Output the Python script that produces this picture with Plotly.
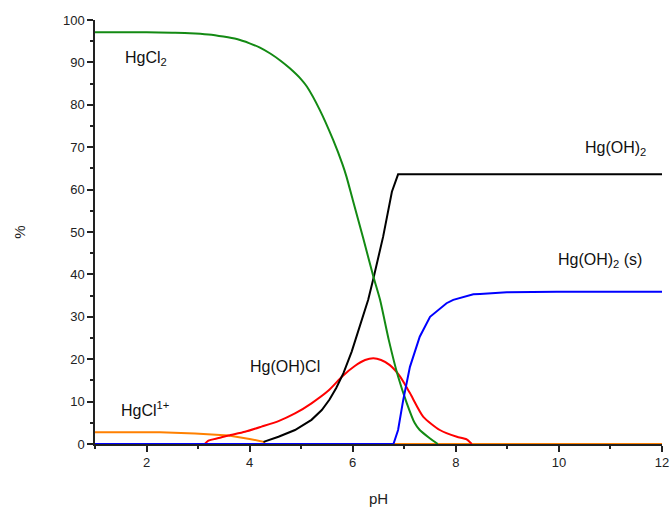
import plotly.graph_objects as go

# HgCl2 (green)
ph_hgcl2 = [1, 2, 2.5, 2.84, 3.2, 3.49, 3.75, 4.0, 4.2, 4.4, 4.6, 4.78, 5.0, 5.11, 5.36, 5.62,
            5.8, 5.88, 6.0, 6.2, 6.4, 6.53, 6.7, 6.88, 7.05, 7.2, 7.3, 7.5, 7.65]
pct_hgcl2 = [97.1, 97.1, 97.0, 96.9, 96.6, 96.1, 95.5, 94.5, 93.5, 92.1, 90.4, 88.6, 86.0, 84.3,
             78.8, 71.7, 66.0, 63.0, 57.6, 48.7, 39.5, 34.0, 24.5, 15.9, 9.6, 5.0, 3.3, 1.3, 0]

# HgCl1+ (orange)
ph_hgcl = [1, 2.26, 2.94, 3.59, 4.0, 4.27, 4.3, 12]
pct_hgcl = [2.8, 2.8, 2.5, 2.0, 1.2, 0.5, 0, 0]

# Hg(OH)Cl (red)
ph_hgohcl = [3.13, 3.2, 3.4, 3.59, 3.91, 4.23, 4.56, 4.88, 5.2, 5.53, 5.8, 6.04, 6.24, 6.4,
             6.55, 6.72, 6.92, 7.11, 7.37, 7.69, 8.02, 8.21, 8.31]
pct_hgohcl = [0, 0.8, 1.4, 2.0, 2.9, 4.1, 5.4, 7.2, 9.6, 12.6, 16.0, 18.4, 19.8, 20.2,
              19.8, 18.6, 15.9, 12.0, 6.4, 3.3, 1.7, 1.1, 0]

# Hg(OH)2 (black)
ph_hgoh2 = [4.27, 4.56, 4.88, 5.2, 5.4, 5.55, 5.68, 5.82, 5.98, 6.2, 6.3, 6.4, 6.59, 6.76,
            6.88, 12]
pct_hgoh2 = [0.5, 1.7, 3.3, 5.7, 8.0, 10.5, 13.2, 16.7, 21.8, 30.0, 34.0, 39.0, 48.9, 59.5,
             63.6, 63.6]

# Hg(OH)2 (s) (blue)
ph_hgoh2s = [1, 6.79, 6.88, 6.98, 7.11, 7.30, 7.50, 7.69, 7.82, 7.95, 8.14, 8.34, 8.47, 8.99,
             9.96, 12]
pct_hgoh2s = [0, 0, 3.3, 10.4, 18.2, 25.3, 30.0, 32.0, 33.2, 34.0, 34.7, 35.3, 35.4, 35.8,
              35.9, 35.9]

# species labels and where they sit (pH, %)
label_text = ["HgCl<sub>2</sub>", "Hg(OH)Cl", "HgCl<sup>1+</sup>",
              "Hg(OH)<sub>2</sub>", "Hg(OH)<sub>2</sub> (s)"]
label_ph = [1.98, 4.69, 1.97, 11.1, 10.8]
label_pct = [91.0, 18.3, 8.3, 69.6, 43.2]

fig = go.Figure()
lw = 2
fig.add_trace(go.Scatter(x=ph_hgcl, y=pct_hgcl, mode="lines",
                         line=dict(color="#ff8000", width=lw), name="HgCl1+"))
fig.add_trace(go.Scatter(x=ph_hgohcl, y=pct_hgohcl, mode="lines",
                         line=dict(color="#ff0000", width=lw, shape="spline", smoothing=0.6),
                         name="Hg(OH)Cl"))
fig.add_trace(go.Scatter(x=ph_hgoh2, y=pct_hgoh2, mode="lines",
                         line=dict(color="#000000", width=lw), name="Hg(OH)2"))
fig.add_trace(go.Scatter(x=ph_hgcl2, y=pct_hgcl2, mode="lines",
                         line=dict(color="#138a13", width=lw, shape="spline", smoothing=0.6),
                         name="HgCl2"))
fig.add_trace(go.Scatter(x=ph_hgoh2s, y=pct_hgoh2s, mode="lines",
                         line=dict(color="#0000ff", width=lw), name="Hg(OH)2 (s)"))

font_main = "Liberation Sans, Arial, sans-serif"
lab = dict(size=16, color="#111111", family=font_main)
annotations = [dict(x=xv, y=yv, xref="x", yref="y", text=t, showarrow=False, font=lab,
                    xanchor="center", yanchor="middle")
               for t, xv, yv in zip(label_text, label_ph, label_pct)]

fig.update_layout(
    width=672, height=511,
    margin=dict(l=95, r=10, t=20, b=67, autoexpand=False),
    plot_bgcolor="white", paper_bgcolor="white",
    showlegend=False,
    font=dict(family=font_main, size=13, color="#222222"),
    annotations=annotations,
)
fig.update_xaxes(range=[1, 12], tickvals=[2, 4, 6, 8, 10, 12], showgrid=False, zeroline=False,
                 automargin=False,
                 showline=True, linecolor="#222222", linewidth=1.5, ticks="outside",
                 ticklen=6, tickwidth=1.5, tickcolor="#222222",
                 minor=dict(dtick=1, tick0=1, ticks="outside", ticklen=3, tickwidth=1.5,
                            tickcolor="#222222"),
                 title=dict(text="pH", standoff=24, font=dict(size=15)))
fig.update_yaxes(range=[0, 100], dtick=10, showgrid=False, zeroline=False,
                 automargin=False,
                 showline=True, linecolor="#222222", linewidth=1.5, ticks="outside",
                 ticklen=6, tickwidth=1.5, tickcolor="#222222",
                 minor=dict(dtick=5, ticks="outside", ticklen=3, tickwidth=1.5,
                            tickcolor="#222222"),
                 title=dict(text="%", standoff=34, font=dict(size=15)))

fig.write_html("out.html", config={"displayModeBar": False},
               post_script="document.body.style.margin='0';"
                           "document.body.style.overflow='hidden';")
